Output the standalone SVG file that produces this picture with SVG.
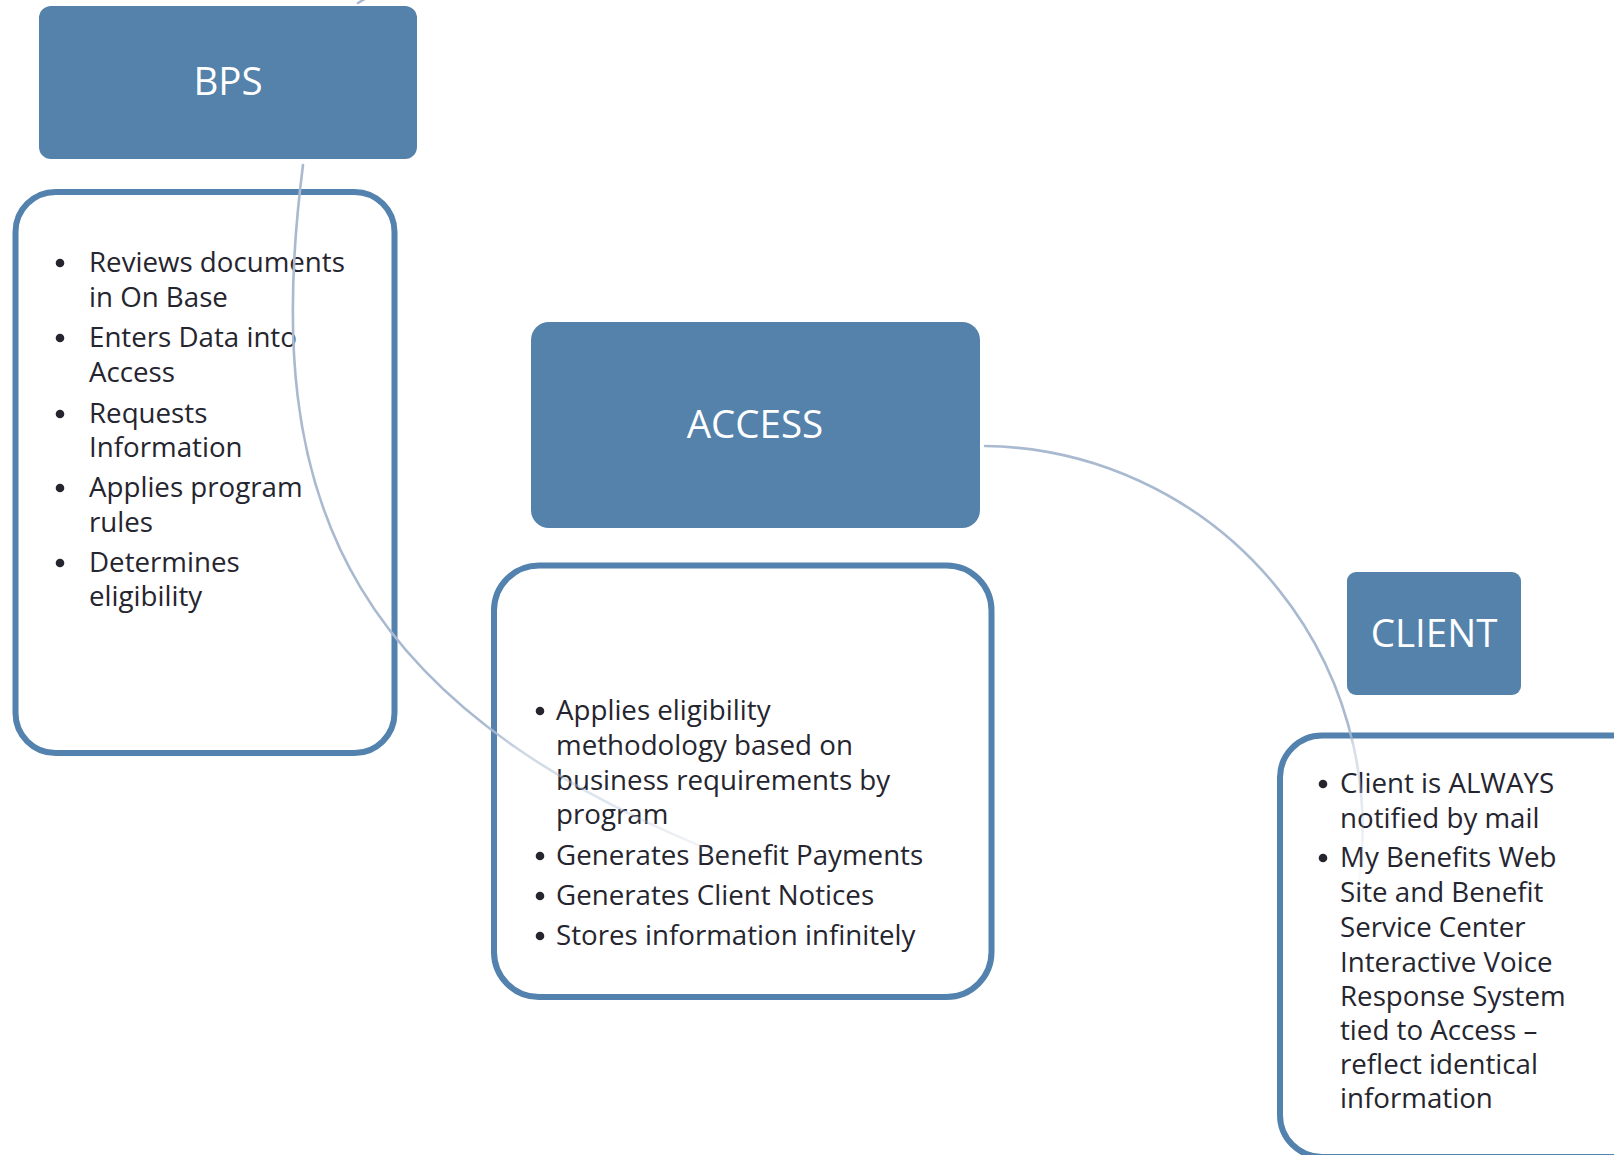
<svg xmlns="http://www.w3.org/2000/svg" width="1614" height="1155" viewBox="0 0 1614 1155">
<style>
.title{fill:#5482AB;}
.tt{font-family:"Open Sans","Noto Sans","Liberation Sans",sans-serif;fill:#FFFFFF;text-anchor:middle;font-size:38.5px;}
.box{fill:#FFFFFF;stroke:#5282AD;stroke-width:6;}
.bt{font-family:"Open Sans","Noto Sans","Liberation Sans",sans-serif;fill:#25252F;font-size:27.7px;}
.bul{fill:#25252F;}
.conn{fill:none;stroke-width:2.6;stroke-linecap:round;}
</style>
<defs>
<linearGradient id="fadeA" gradientUnits="userSpaceOnUse" x1="480" y1="728" x2="783" y2="878">
<stop offset="0" stop-color="#A9BAD0" stop-opacity="1"/>
<stop offset="0.15" stop-color="#A9BAD0" stop-opacity="0.55"/>
<stop offset="1" stop-color="#A9BAD0" stop-opacity="0"/>
</linearGradient>
<linearGradient id="fadeB" gradientUnits="userSpaceOnUse" x1="0" y1="728" x2="0" y2="905">
<stop offset="0" stop-color="#A9BAD0" stop-opacity="1"/>
<stop offset="0.1" stop-color="#A9BAD0" stop-opacity="0.5"/>
<stop offset="1" stop-color="#A9BAD0" stop-opacity="0"/>
</linearGradient>
</defs>
<rect width="1614" height="1155" fill="#FFFFFF"/>

<g id="bps">
<rect class="title" x="39" y="6" width="378" height="153" rx="12"/>
<text class="tt" x="228" y="95" font-size="40">BPS</text>
</g>

<g id="bps-details">
<rect class="box" x="15.5" y="192" width="379" height="561" rx="40"/>
<circle class="bul" cx="60" cy="263" r="4.3"/>
<circle class="bul" cx="60" cy="338" r="4.3"/>
<circle class="bul" cx="60" cy="414" r="4.3"/>
<circle class="bul" cx="60" cy="488" r="4.3"/>
<circle class="bul" cx="60" cy="563" r="4.3"/>
<text class="bt" x="89" y="272">Reviews documents</text>
<text class="bt" x="89" y="307">in On Base</text>
<text class="bt" x="89" y="347">Enters Data into</text>
<text class="bt" x="89" y="382">Access</text>
<text class="bt" x="89" y="423">Requests</text>
<text class="bt" x="89" y="457">Information</text>
<text class="bt" x="89" y="497">Applies program</text>
<text class="bt" x="89" y="532">rules</text>
<text class="bt" x="89" y="572">Determines</text>
<text class="bt" x="89" y="606">eligibility</text>
</g>

<g id="access">
<rect class="title" x="531" y="322" width="449" height="206" rx="18"/>
<text class="tt" x="755" y="438">ACCESS</text>
</g>

<g id="access-details">
<rect class="box" x="494" y="565.5" width="497.5" height="431.5" rx="45"/>
<circle class="bul" cx="540" cy="711" r="4.3"/>
<circle class="bul" cx="540" cy="856" r="4.3"/>
<circle class="bul" cx="540" cy="896" r="4.3"/>
<circle class="bul" cx="540" cy="936" r="4.3"/>
<text class="bt" x="556" y="720">Applies eligibility</text>
<text class="bt" x="556" y="755">methodology based on</text>
<text class="bt" x="556" y="790">business requirements by</text>
<text class="bt" x="556" y="824">program</text>
<text class="bt" x="556" y="865">Generates Benefit Payments</text>
<text class="bt" x="556" y="905">Generates Client Notices</text>
<text class="bt" x="556" y="945">Stores information infinitely</text>
</g>

<g id="client">
<rect class="title" x="1347" y="572" width="174" height="123" rx="9"/>
<text class="tt" x="1434" y="647">CLIENT</text>
</g>

<g id="client-details">
<rect class="box" x="1280" y="735.5" width="380" height="421.5" rx="42"/>
<circle class="bul" cx="1323" cy="784" r="4.3"/>
<circle class="bul" cx="1323" cy="858" r="4.3"/>
<text class="bt" x="1340" y="793">Client is ALWAYS</text>
<text class="bt" x="1340" y="828">notified by mail</text>
<text class="bt" x="1340" y="867">My Benefits Web</text>
<text class="bt" x="1340" y="902">Site and Benefit</text>
<text class="bt" x="1340" y="937">Service Center</text>
<text class="bt" x="1340" y="972">Interactive Voice</text>
<text class="bt" x="1340" y="1006">Response System</text>
<text class="bt" x="1340" y="1040">tied to Access –</text>
<text class="bt" x="1340" y="1074">reflect identical</text>
<text class="bt" x="1340" y="1108">information</text>
</g>

<g id="connectors">
<path class="conn" stroke="#A9BAD0" d="M358,3 L368,-3"/>
<path class="conn" stroke="url(#fadeA)" d="M303,165 C260,500 340,720 783,878"/>
<path class="conn" stroke="url(#fadeB)" d="M985,446 A383,383 0 0 1 1355,905"/>
</g>
</svg>
